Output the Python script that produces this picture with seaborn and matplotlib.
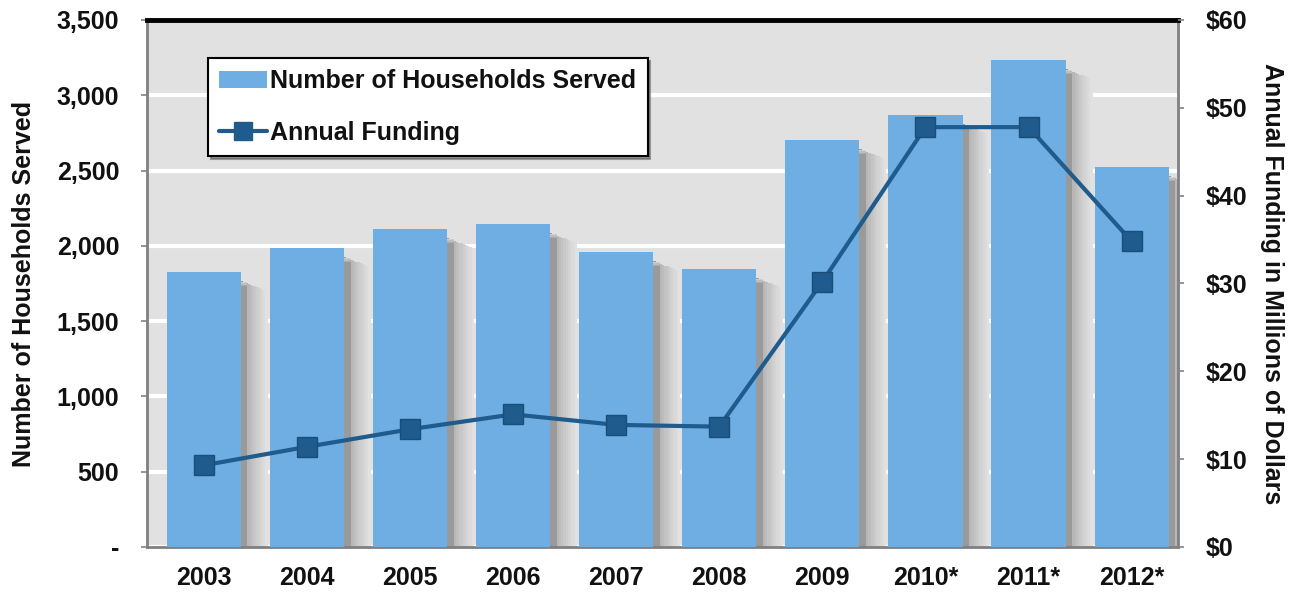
import matplotlib
matplotlib.use("Agg")
import matplotlib.pyplot as plt
from matplotlib.ticker import FuncFormatter, MultipleLocator, FixedLocator
from matplotlib.patches import Patch
from matplotlib.lines import Line2D
from matplotlib.colors import to_rgb
import seaborn as sns
import pandas as pd
import numpy as np

years = ["2003", "2004", "2005", "2006", "2007", "2008", "2009", "2010*", "2011*", "2012*"]
households = [1826, 1986, 2112, 2145, 1959, 1846, 2703, 2869, 3234, 2524]
funding = [9.3, 11.4, 13.4, 15.1, 13.9, 13.7, 30.2, 47.8, 47.8, 34.8]

bar_color = "#6FAEE2"
line_color = "#1F5B8C"

sns.set_theme(style="white")
plt.rcParams["font.family"] = ["Liberation Sans", "DejaVu Sans"]
plt.rcParams["font.weight"] = "bold"

df = pd.DataFrame({"year": years, "households": households, "funding": funding})

fig = plt.figure(figsize=(12.96, 5.97), dpi=100)
ax = fig.add_axes([0.1134, 0.0838, 0.7956, 0.8827])
ax.set_facecolor("#E1E1E1")

# soft drop shadows to the right of each bar (gray gradient)
x = np.arange(len(years))
bar_w = 0.72
n_layers = 12
shadow_w = 0.26
step = shadow_w / n_layers
dark = np.array(to_rgb("#9A9A9A"))
light = np.array(to_rgb("#E1E1E1"))
h = np.array(households, dtype=float)
for k in range(n_layers):
    t = (k / (n_layers - 1)) ** 0.7
    col = dark * (1 - t) + light * t
    ax.bar(x + bar_w / 2 + (k + 0.5) * step, h - 60 - k * 6, width=step * 1.05,
           color=col, zorder=1, linewidth=0)
# soft top edge of shadows
for j in range(4):
    col = dark * (0.25 * (j + 1)) + light * (1 - 0.25 * (j + 1))
    ax.bar(x + bar_w / 2 + step * 1.5, h - 60 - (j + 1) * 8, width=step * 3,
           color=col, zorder=1.1, linewidth=0)

sns.barplot(data=df, x="year", y="households", color=bar_color, width=bar_w,
            saturation=1, ax=ax, zorder=3)
for p in ax.patches:
    p.set_linewidth(0)

ax.set_ylim(0, 3500)
ax.set_xlim(-0.55, 9.45)
ax.yaxis.set_major_locator(MultipleLocator(500))
ax.yaxis.set_major_formatter(FuncFormatter(lambda v, _: "-" if v == 0 else f"{int(v):,}"))
ax.grid(axis="y", color="white", linewidth=3, zorder=0.5)
ax.set_axisbelow(True)

ax.set_xlabel("")
ax.set_ylabel("Number of Households Served", fontsize=18, fontweight="bold", labelpad=15,
              color="#111111")
ax.tick_params(axis="x", which="major", length=0, labelsize=18, pad=14, labelcolor="#111111")
ax.tick_params(axis="y", which="major", length=4, labelsize=18, color="#888888",
               direction="out", pad=16, labelcolor="#111111")
ax.xaxis.set_minor_locator(FixedLocator(np.arange(-0.5, 9.6, 1.0)))
ax.tick_params(axis="x", which="minor", length=5, color="#888888", direction="out")
for lab in ax.get_xticklabels() + ax.get_yticklabels():
    lab.set_fontweight("bold")

for s in ["left", "right", "bottom"]:
    ax.spines[s].set_color("#808080")
    ax.spines[s].set_linewidth(2)
ax.spines["top"].set_color("black")
ax.spines["top"].set_linewidth(3.5)

ax2 = ax.twinx()
sns.lineplot(x=x, y=funding, ax=ax2, color=line_color, linewidth=3, marker="s",
             markersize=14, markeredgecolor="#1A4E7A", markeredgewidth=1, zorder=5)
ax2.set_ylim(0, 60)
ax2.yaxis.set_major_locator(MultipleLocator(10))
ax2.yaxis.set_major_formatter(FuncFormatter(lambda v, _: f"${int(v)}"))
ax2.tick_params(axis="y", length=4, labelsize=18, color="#888888", direction="out",
                pad=16, labelcolor="#111111")
for lab in ax2.get_yticklabels():
    lab.set_fontweight("bold")
ax2.set_ylabel("Annual Funding in Millions of Dollars", fontsize=18, fontweight="bold",
               rotation=270, labelpad=26, color="#111111")
for s in ax2.spines.values():
    s.set_visible(False)
ax2.grid(False)

handles = [Patch(facecolor=bar_color, edgecolor="none"),
           Line2D([0], [0], color=line_color, linewidth=3, marker="s", markersize=13)]
leg = ax.legend(handles, ["Number of Households Served", "Annual Funding"],
                loc="upper left", bbox_to_anchor=(0.059, 0.928), frameon=True,
                fancybox=False, shadow=True, fontsize=18, handlelength=1.9,
                handletextpad=0.15, labelspacing=1.1, borderpad=0.45, borderaxespad=0)
leg.get_frame().set_edgecolor("black")
leg.get_frame().set_linewidth(1.5)
leg.set_zorder(10)
for t in leg.get_texts():
    t.set_fontweight("bold")
    t.set_color("#111111")

fig.savefig("out.png", dpi=100)
